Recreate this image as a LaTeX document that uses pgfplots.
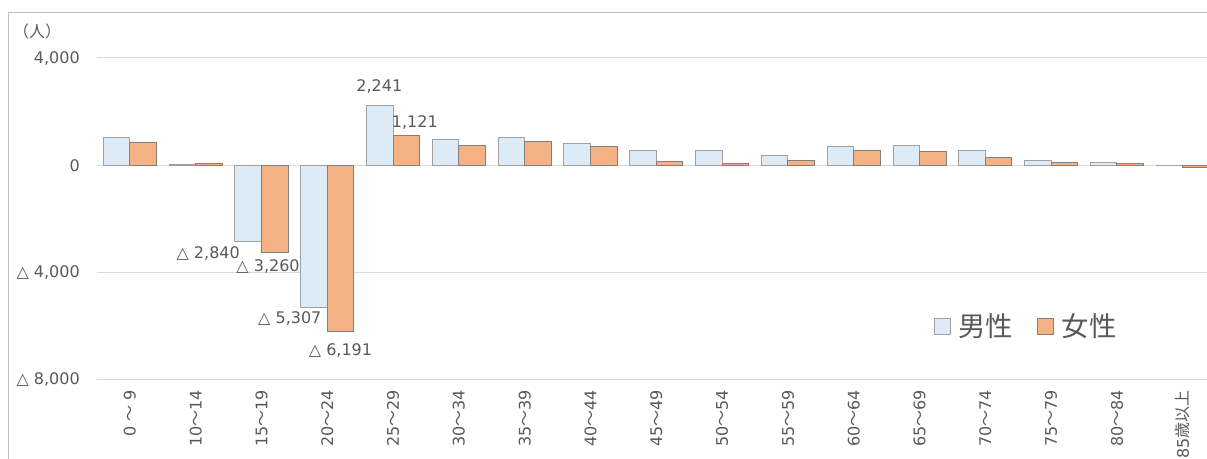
\documentclass[border=0pt]{standalone}
\usepackage{pgfplots}
\pgfplotsset{compat=1.18}
\usepackage{fontspec}
\setmainfont{DejaVu Sans}
\newfontfamily\jp{Noto Sans CJK JP}
\definecolor{txt}{HTML}{595959}
\definecolor{gridc}{HTML}{D9D9D9}
\definecolor{mfill}{HTML}{DDEBF7}
\definecolor{mdraw}{HTML}{A0A0A0}
\definecolor{ffill}{HTML}{F4B183}
\definecolor{fdraw}{HTML}{808080}
\definecolor{borderc}{HTML}{BFBFBF}
\pgfplotstableread{
x male female
0 1055 857
1 30 70
2 -2840 -3260
3 -5307 -6191
4 2241 1121
5 958 734
6 1032 883
7 795 708
8 547 137
9 571 50
10 348 186
11 720 547
12 733 510
13 547 286
14 162 100
15 87 62
16 10 -75
}\data
\begin{document}
\begin{tikzpicture}[x=0.75pt,y=0.75pt]
\useasboundingbox (0,0) rectangle (1207,459);
\clip (0,0) rectangle (1207,459);
\draw[borderc, line width=0.75pt] (8.5,-50) -- (8.5,446.5) -- (1250,446.5);
\node[font=\jp\fontsize{12}{14}\selectfont, text=txt] at (37,428) {（人）};
\begin{axis}[
  at={(72.75pt,59.25pt)}, anchor=south west,
  scale only axis, width=839pt, height=241.5pt,
  xmin=-0.5, xmax=16.5, ymin=-8000, ymax=4000,
  ybar=0pt, bar width=19.9pt,
  axis lines=left, axis line style={draw=none,-},
  tick style={draw=none}, major tick length=0pt,
  ymajorgrids, grid style={gridc, line width=0.75pt},
  ytick={-8000,-4000,0,4000},
  yticklabels={{△ 8,000},{△ 4,000},0,{4,000}},
  yticklabel style={anchor=east, inner sep=0pt, font=\fontsize{12}{14}\selectfont, text=txt},
  yticklabel shift=12.75pt,
  xtick={0,...,16},
  xticklabels={{0 {\jp ～} 9},{10{\jp ～}14},{15{\jp ～}19},{20{\jp ～}24},{25{\jp ～}29},{30{\jp ～}34},{35{\jp ～}39},{40{\jp ～}44},{45{\jp ～}49},{50{\jp ～}54},{55{\jp ～}59},{60{\jp ～}64},{65{\jp ～}69},{70{\jp ～}74},{75{\jp ～}79},{80{\jp ～}84},{85{\jp 歳以上}}},
  xticklabel style={rotate=90, anchor=east, inner sep=0pt, font=\fontsize{12}{14}\selectfont, text=txt},
  xticklabel shift=7.5pt,
  legend columns=2,
  legend image code/.code={\draw[#1, line width=0.75pt] (0pt,-6pt) rectangle (12pt,6pt);},
  legend style={at={(axis cs:13.66,-6000)}, anchor=center, draw=none, fill=none,
    font=\jp\fontsize{20.5}{24}\selectfont, text=txt,
    nodes={inner xsep=5.5pt, inner ysep=1pt},
    /tikz/every even column/.append style={column sep=13pt}},
  clip=false,
]
\addplot[fill=mfill, draw=mdraw, line width=0.75pt] table[x=x, y=male] {\data};
\addplot[fill=ffill, draw=fdraw, line width=0.75pt] table[x=x, y=female] {\data};
\legend{男性,女性}
\node[font=\fontsize{12}{14}\selectfont, text=txt] at (axis cs:3.79,2944) {2,241};
\node[font=\fontsize{12}{14}\selectfont, text=txt] at (axis cs:4.33,1603) {1,121};
\node[font=\fontsize{12}{14}\selectfont, text=txt] at (axis cs:1.19,-3280) {△ 2,840};
\node[font=\fontsize{12}{14}\selectfont, text=txt] at (axis cs:2.10,-3764) {△ 3,260};
\node[font=\fontsize{12}{14}\selectfont, text=txt] at (axis cs:2.43,-5703) {△ 5,307};
\node[font=\fontsize{12}{14}\selectfont, text=txt] at (axis cs:3.20,-6895) {△ 6,191};
\end{axis}
\end{tikzpicture}
\end{document}
